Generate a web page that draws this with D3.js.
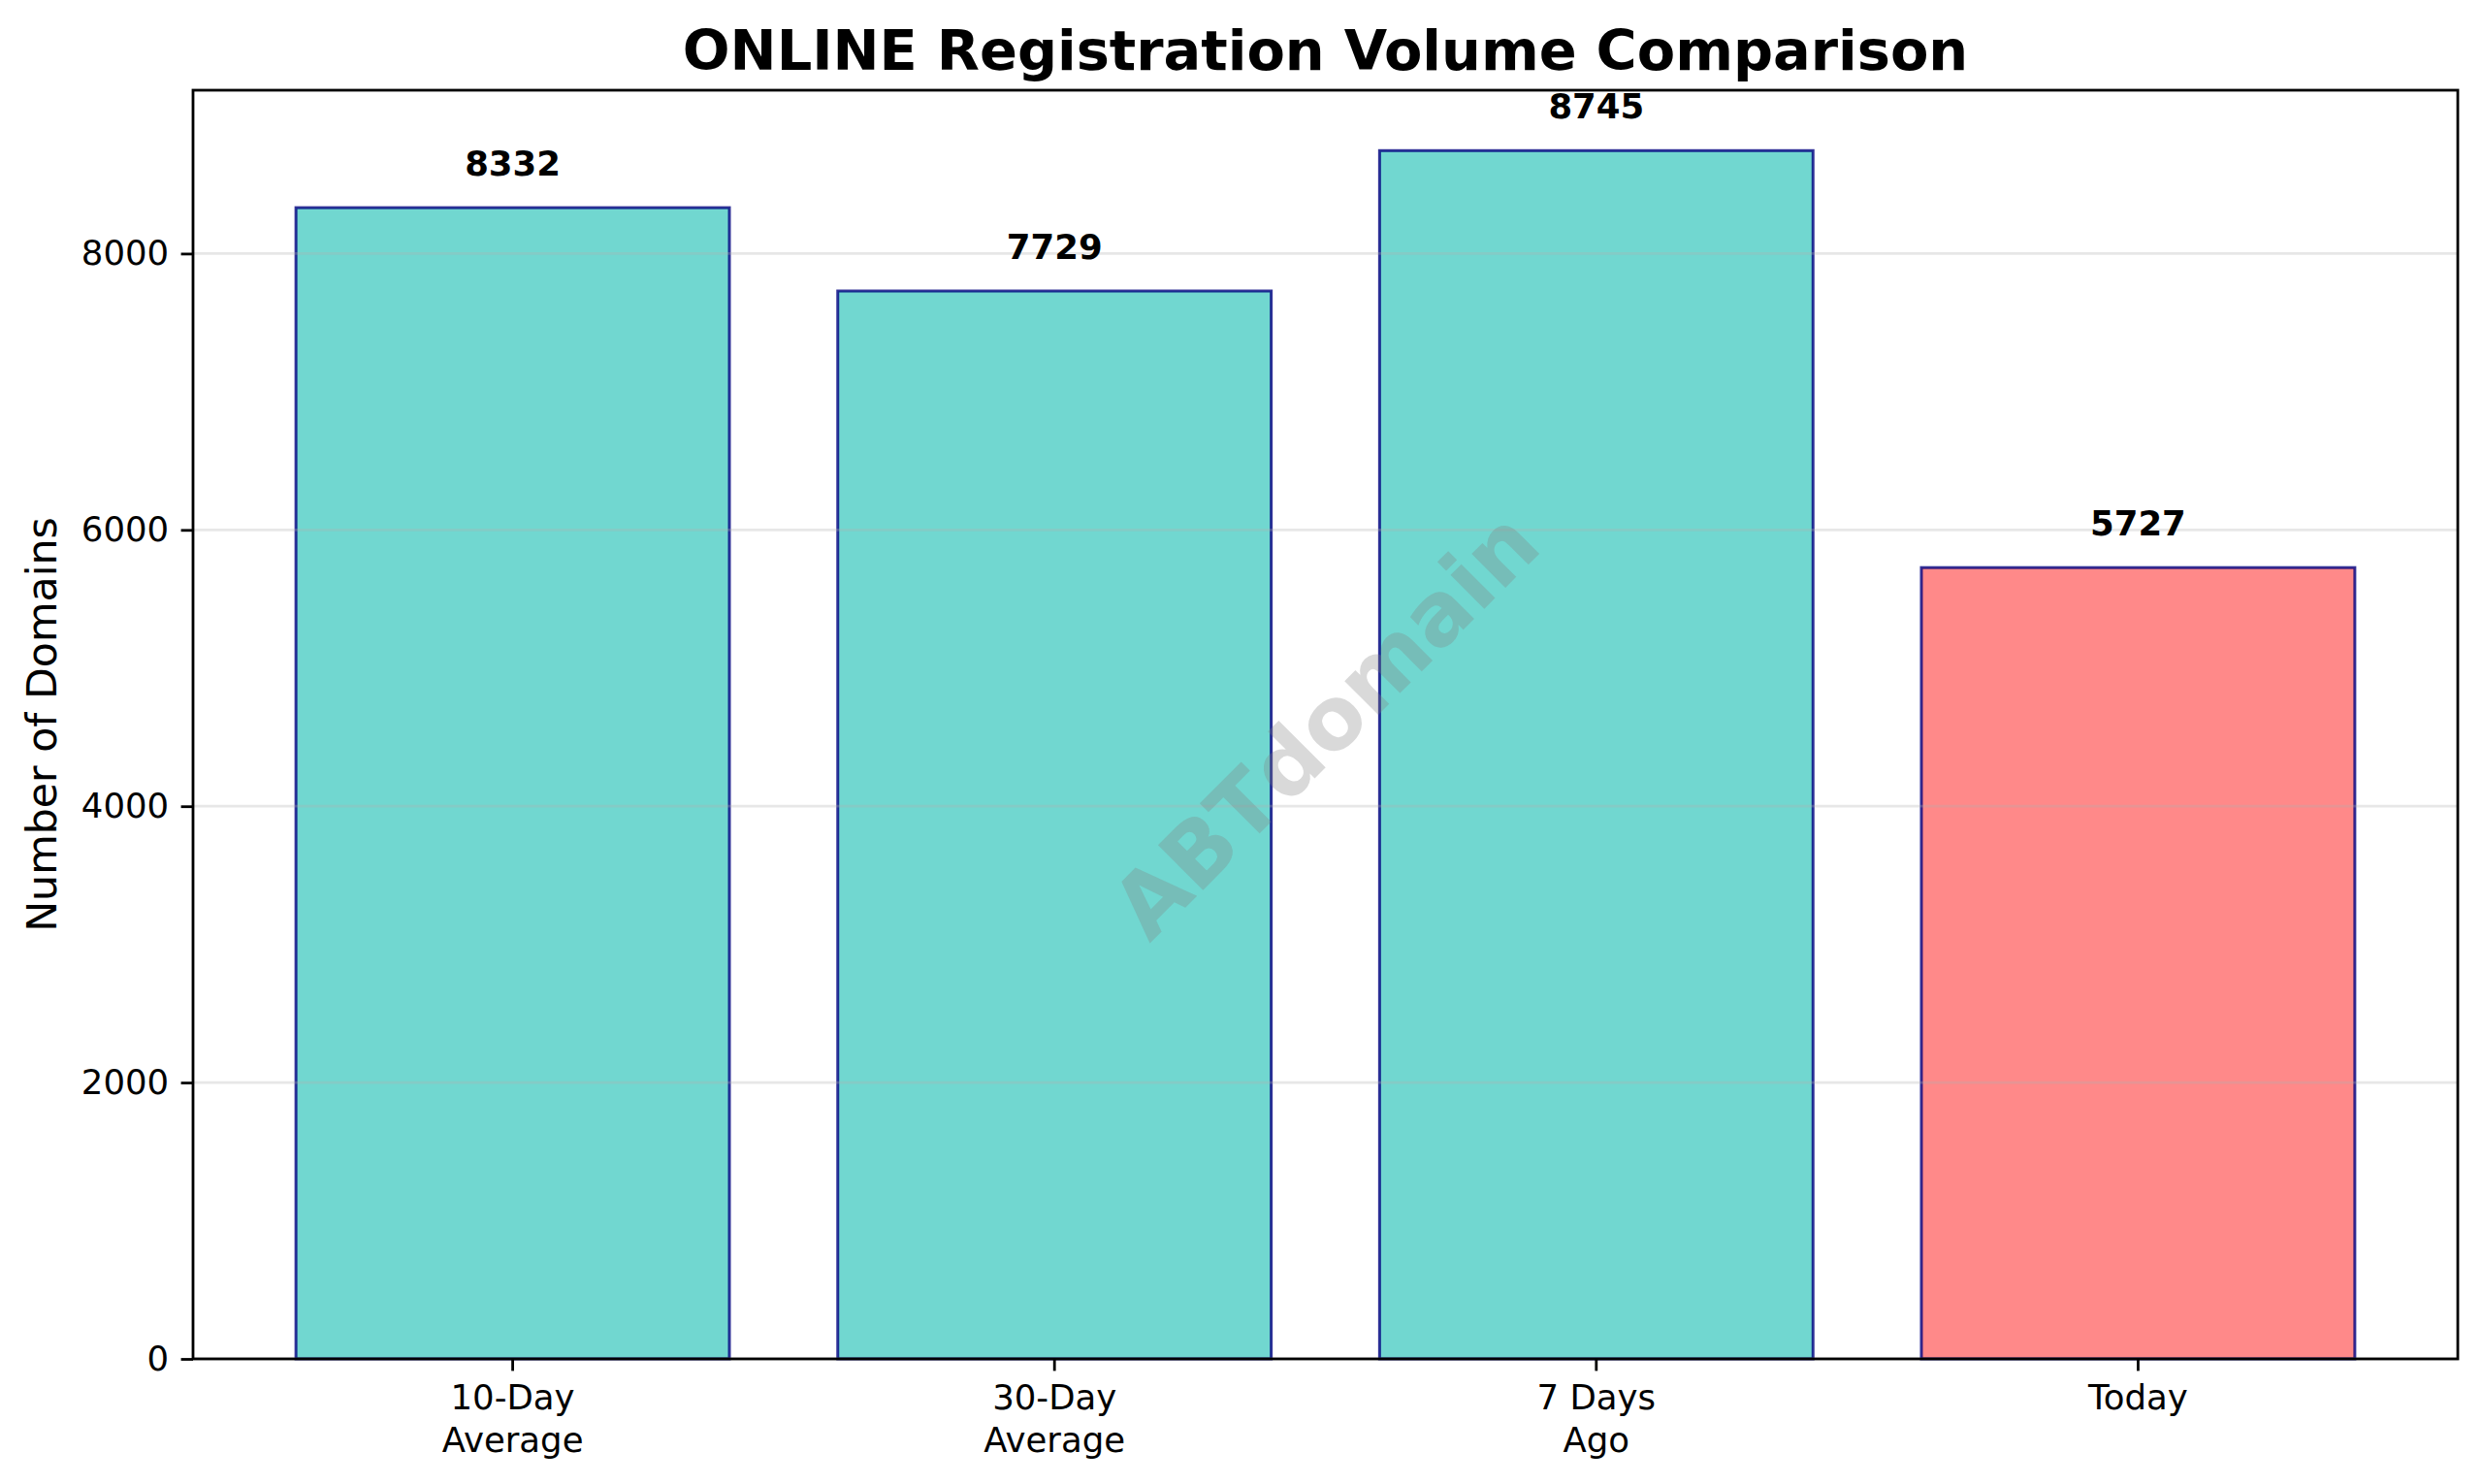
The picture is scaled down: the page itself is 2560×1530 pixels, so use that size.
<!DOCTYPE html>
<html>
<head>
<meta charset="utf-8">
<script src="https://cdn.jsdelivr.net/npm/d3@7"></script>
<style>
  html, body { margin: 0; padding: 0; background: #fff; }
  svg { display: block; }
  text { font-family: "DejaVu Sans", sans-serif; }
</style>
</head>
<body>
<svg id="chart" width="2560" height="1530"></svg>
<script>
// ---- data ----
const categories = ["10-Day\nAverage", "30-Day\nAverage", "7 Days\nAgo", "Today"];
const values = [8332, 7729, 8745, 5727];
const barColors = ["#4ECDC4", "#4ECDC4", "#4ECDC4", "#FF6B6B"];
const yTicks = [0, 2000, 4000, 6000, 8000];
const titleText = "ONLINE Registration Volume Comparison";
const yLabelText = "Number of Domains";
const watermarkText = "ABTdomain";

// ---- layout ----
const W = 2560, H = 1530;
const m = { left: 199, right: 2534, top: 93, bottom: 1401 };

const svg = d3.select("#chart");
svg.append("rect").attr("width", W).attr("height", H).attr("fill", "#fff");

const x = d3.scaleBand()
  .domain(d3.range(categories.length))
  .range([m.left, m.right])
  .paddingInner(0.2)
  .paddingOuter(0.19);

const y = d3.scaleLinear()
  .domain([0, d3.max(values) * 1.05])
  .range([m.bottom, m.top]);

// bars
svg.append("g").selectAll("rect")
  .data(values)
  .join("rect")
  .attr("x", (d, i) => x(i))
  .attr("width", x.bandwidth())
  .attr("y", d => y(d))
  .attr("height", d => y(0) - y(d))
  .attr("fill", (d, i) => barColors[i])
  .attr("fill-opacity", 0.8)
  .attr("stroke", "navy")
  .attr("stroke-opacity", 0.8)
  .attr("stroke-width", 3);

// grid (above bars, like matplotlib default)
svg.append("g").selectAll("line")
  .data(yTicks)
  .join("line")
  .attr("x1", m.left).attr("x2", m.right)
  .attr("y1", d => y(d)).attr("y2", d => y(d))
  .attr("stroke", "#b0b0b0")
  .attr("stroke-opacity", 0.3)
  .attr("stroke-width", 2.8);

// value labels
svg.append("g").selectAll("text")
  .data(values)
  .join("text")
  .attr("x", (d, i) => x(i) + x.bandwidth() / 2)
  .attr("y", d => y(d) - 33)
  .attr("text-anchor", "middle")
  .attr("font-size", 35.5)
  .attr("font-weight", "bold")
  .attr("fill", "#000")
  .text(d => d);

// watermark
svg.append("text")
  .attr("transform", `translate(${(m.left + m.right) / 2},${(m.top + m.bottom) / 2}) rotate(-45)`)
  .attr("text-anchor", "middle")
  .attr("dominant-baseline", "central")
  .attr("font-size", 90)
  .attr("font-weight", "bold")
  .attr("fill", "gray")
  .attr("fill-opacity", 0.3)
  .text(watermarkText);

// y axis
const yAxis = d3.axisLeft(y).tickValues(yTicks).tickSize(12.4).tickPadding(12.4).tickFormat(d3.format("d"));
const gy = svg.append("g").attr("transform", `translate(${m.left},0)`).call(yAxis);
gy.select(".domain").remove();
gy.selectAll(".tick line").attr("stroke", "#000").attr("stroke-width", 2.8);
gy.selectAll(".tick text").attr("font-size", 35.5).attr("fill", "#000")
  .attr("font-family", "DejaVu Sans, sans-serif");

// x axis
const xAxis = d3.axisBottom(x).tickSize(12.4).tickPadding(12.4).tickFormat(() => "");
const gx = svg.append("g").attr("transform", `translate(0,${m.bottom})`).call(xAxis);
gx.select(".domain").remove();
gx.selectAll(".tick line").attr("stroke", "#000").attr("stroke-width", 2.8);
gx.selectAll(".tick text").remove();
gx.selectAll(".tick").each(function(d) {
  const lines = categories[d].split("\n");
  const t = d3.select(this).append("text")
    .attr("text-anchor", "middle")
    .attr("font-size", 35.5)
    .attr("fill", "#000")
    .attr("font-family", "DejaVu Sans, sans-serif");
  lines.forEach((ln, k) => {
    t.append("tspan").attr("x", 0).attr("y", 52 + k * 43.5).text(ln);
  });
});

// spines
svg.append("rect")
  .attr("x", m.left).attr("y", m.top)
  .attr("width", m.right - m.left).attr("height", m.bottom - m.top)
  .attr("fill", "none").attr("stroke", "#000").attr("stroke-width", 2.8);

// title
svg.append("text")
  .attr("x", (m.left + m.right) / 2)
  .attr("y", 72)
  .attr("text-anchor", "middle")
  .attr("font-size", 57.4)
  .attr("font-weight", "bold")
  .attr("fill", "#000")
  .text(titleText);

// y label
svg.append("text")
  .attr("transform", `translate(58,${(m.top + m.bottom) / 2}) rotate(-90)`)
  .attr("text-anchor", "middle")
  .attr("font-size", 42.7)
  .attr("fill", "#000")
  .text(yLabelText);
</script>
</body>
</html>
